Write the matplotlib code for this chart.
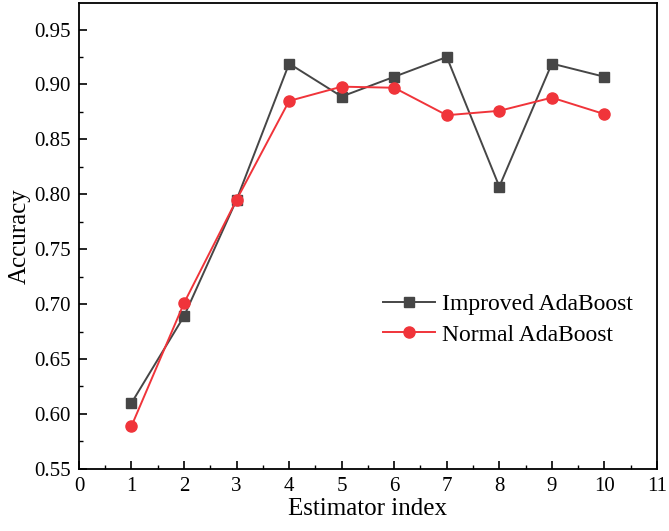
import numpy as np
import matplotlib.pyplot as plt
from matplotlib.ticker import MultipleLocator

# Data
estimators = [1, 2, 3, 4, 5, 6, 7, 8, 9, 10]
improved_acc = [0.610, 0.689, 0.795, 0.919, 0.889, 0.907, 0.925, 0.807, 0.919, 0.907]
normal_acc = [0.589, 0.701, 0.795, 0.885, 0.898, 0.897, 0.872, 0.876, 0.888, 0.873]

plt.rcParams["font.family"] = ["Liberation Serif", "DejaVu Serif"]
plt.rcParams["mathtext.fontset"] = "stix"

fig = plt.figure(figsize=(6.69, 5.31), dpi=100)
ax = fig.add_axes([0.118, 0.117, 0.864, 0.877])

ax.plot(estimators, improved_acc, color="#464646", marker="s", markersize=7,
        linewidth=1.4, label="Improved AdaBoost")
ax.plot(estimators, normal_acc, color="#f0343a", marker="o", markersize=8,
        linewidth=1.4, label="Normal AdaBoost")

ax.set_xlim(0, 11)
ax.set_ylim(0.55, 0.974)
ax.xaxis.set_major_locator(MultipleLocator(1))
ax.xaxis.set_minor_locator(MultipleLocator(0.5))
ax.yaxis.set_major_locator(MultipleLocator(0.05))
ax.yaxis.set_minor_locator(MultipleLocator(0.025))
ax.yaxis.set_major_formatter(plt.FormatStrFormatter("%.2f"))

ax.tick_params(which="major", direction="in", length=6, width=1.2,
               labelsize=15, pad=6)
ax.tick_params(which="minor", direction="in", length=3, width=1.0)
for s in ax.spines.values():
    s.set_linewidth(1.3)

ax.set_xlabel("Estimator index", fontsize=18, labelpad=1)
ax.set_ylabel("Accuracy", fontsize=18, labelpad=2)

ax.legend(loc="center left", bbox_to_anchor=(0.49, 0.32), frameon=False,
          fontsize=17, handlelength=2.2, handletextpad=0.3, labelspacing=0.37)

fig.savefig("out.png", dpi=100)
